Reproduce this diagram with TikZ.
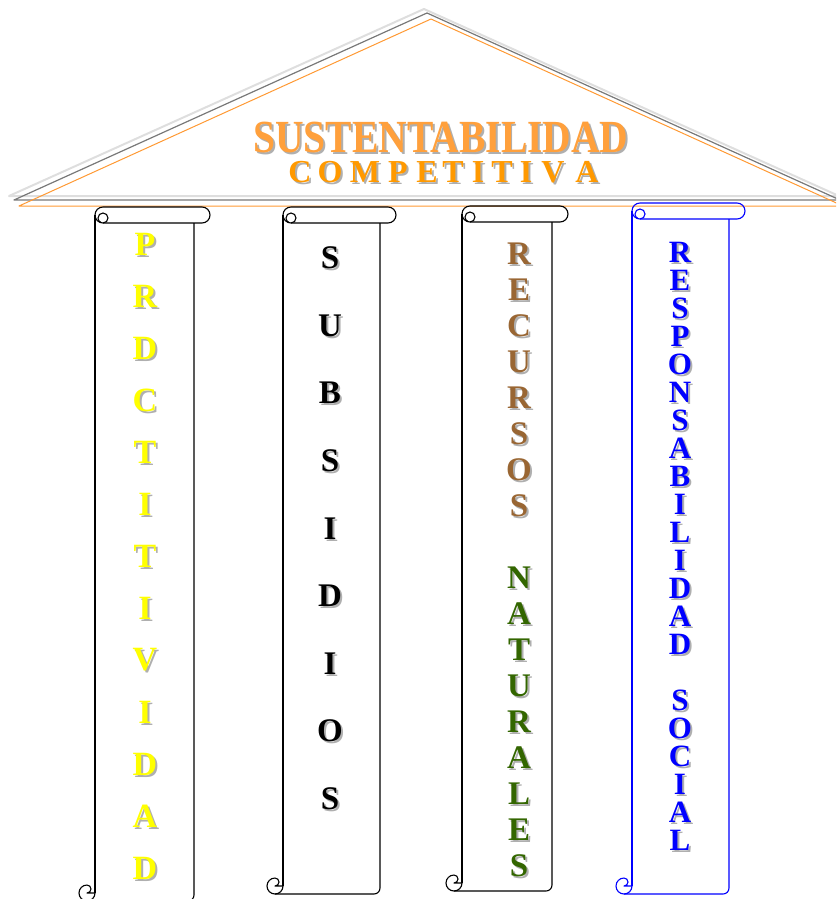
\documentclass[tikz,border=0pt]{standalone}
\usepackage{fontspec}
\setmainfont{Liberation Serif}
\usetikzlibrary{positioning}
\definecolor{roofgray}{RGB}{120,120,120}
\definecolor{roofshade}{RGB}{222,222,222}
\definecolor{rooforange}{RGB}{255,153,51}
\definecolor{titleorange}{RGB}{255,160,60}
\definecolor{subtorange}{RGB}{255,153,0}
\definecolor{txtshadow}{RGB}{175,175,175}
\definecolor{prodyellow}{RGB}{255,255,0}
\definecolor{recbrown}{RGB}{153,102,51}
\definecolor{natgreen}{RGB}{51,102,0}
\definecolor{respblue}{RGB}{0,0,255}

% letters with a grey drop shadow
\newcommand{\withshadow}[1]{\rlap{\kern2pt\raisebox{-2pt}{\textcolor{txtshadow}{#1}}}#1}

% vertical scroll: #1 left, #2 right, #3 top, #4 bottom (in pixels), #5 colour
\newcommand{\vscroll}[5]{%
  \begin{scope}[draw=#5, line width=1.1pt]
    % top roll
    \draw (#1,-#3-8) arc[start angle=180, end angle=90, radius=8] -- (#2+8,-#3)
      arc[start angle=90, end angle=-90, radius=8] -- (#1+8,-#3-16)
      arc[start angle=270, end angle=180, radius=8];
    \draw (#1+8,-#3-16) arc[start angle=-90, end angle=250, radius=5];
    % body
    \draw (#1,-#3-8) -- (#1,-#4+8);
    \draw (#2,-#3-16) -- (#2,-#4+6) arc[start angle=0, end angle=-90, radius=6] -- (#1-8,-#4);
    % bottom curl
    \draw (#1-8,-#4+16) arc[start angle=90, end angle=360, radius=8];
    \draw (#1-8,-#4+16) arc[start angle=90, end angle=-90, radius=4] -- (#1,-#4+8);
  \end{scope}}

\begin{document}
\begin{tikzpicture}[x=1pt, y=1pt, line join=round]
\tikzset{
  letter/.style={inner sep=0pt, font=\bfseries\fontsize{#1}{#1}\selectfont},
}
\useasboundingbox (0,0) rectangle (836,-899);
\clip (0,0) rectangle (836,-899);

% Roof
\draw[roofshade, line width=2pt] (9,-196) -- (424,-9) -- (839,-196) -- cycle;
\draw[roofgray, line width=1.2pt] (14,-200) -- (427,-13) -- (840,-200) -- cycle;
\draw[rooforange, line width=1pt] (19,-206) -- (431,-19) -- (843,-206) -- cycle;

% Title
\node[letter=46, text=titleorange] (title) at (441,-138) {\scalebox{0.86}[1]{\withshadow{SUSTENTABILIDAD}}};
\foreach \ch/\xx [count=\i] in {C/300,O/330,M/365,P/398,E/427,T/453,I/478,T/502,I/526,V/553,A/587}
  \node[letter=32, text=subtorange] (comp-\i) at (\xx,-173) {\withshadow{\ch}};

% Columns
\vscroll{95}{194}{207}{901}{black}
\vscroll{283}{380}{207}{894}{black}
\vscroll{462}{552}{206}{891}{black}
\vscroll{632}{729}{203}{894}{respblue}

% Column texts
\foreach \ch [count=\i from 0] in {P,R,D,C,T,I,T,I,V,I,D,A,D}
  \node[letter=34, text=prodyellow] (prod-\i) at (145,{-245-52*\i}) {\withshadow{\ch}};
\foreach \ch [count=\i from 0] in {S,U,B,S,I,D,I,O,S}
  \node[letter=33, text=black] (subs-\i) at (330,{-259-67.6*\i}) {\withshadow{\ch}};
\foreach \ch [count=\i from 0] in {R,E,C,U,R,S,O,S}
  \node[letter=33, text=recbrown] (recu-\i) at (519,{-255-36*\i}) {\withshadow{\ch}};
\foreach \ch [count=\i from 0] in {N,A,T,U,R,A,L,E,S}
  \node[letter=33, text=natgreen] (natu-\i) at (519,{-579-36*\i}) {\withshadow{\ch}};
\foreach \ch [count=\i from 0] in {R,E,S,P,O,N,S,A,B,I,L,I,D,A,D}
  \node[letter=31, text=respblue] (resp-\i) at (680,{-253-28*\i}) {\withshadow{\ch}};
\foreach \ch [count=\i from 0] in {S,O,C,I,A,L}
  \node[letter=31, text=respblue] (soci-\i) at (680,{-701-28*\i}) {\withshadow{\ch}};
\end{tikzpicture}
\end{document}
